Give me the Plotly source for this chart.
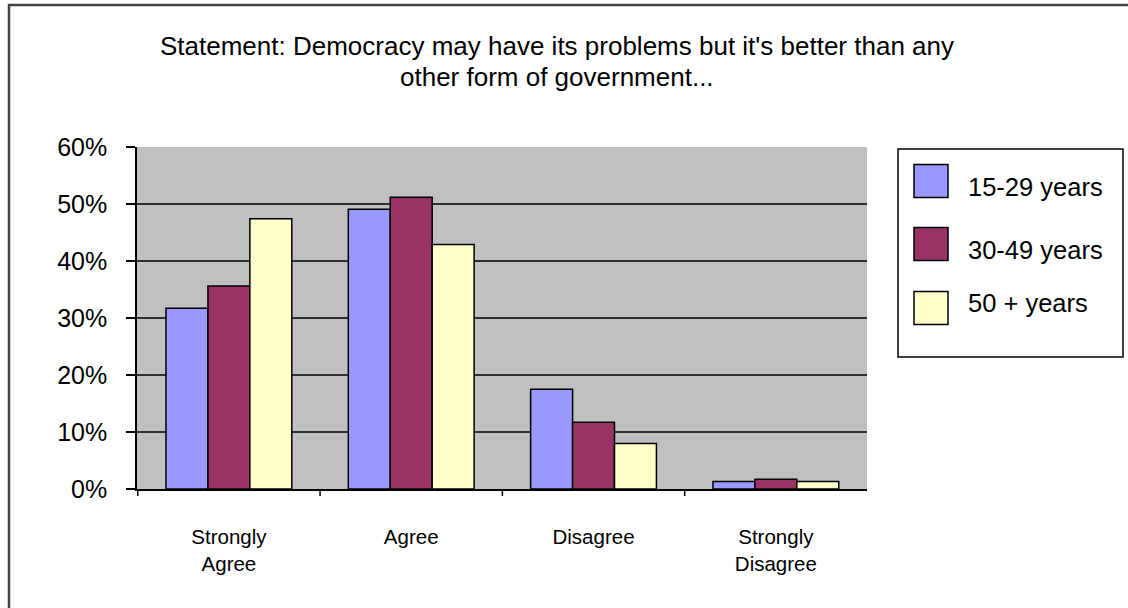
import plotly.graph_objects as go

# Survey responses by age group
categories = ["Strongly<br>Agree", "Agree", "Disagree", "Strongly<br>Disagree"]
age_groups = ["15-29 years", "30-49 years", "50 + years"]
young = [0.317, 0.491, 0.175, 0.013]
middle = [0.356, 0.512, 0.117, 0.017]
older = [0.474, 0.429, 0.080, 0.013]
series = [young, middle, older]
colors = ["#9999FF", "#993366", "#FFFFCC"]
y_ticks = [0.0, 0.1, 0.2, 0.3, 0.4, 0.5, 0.6]
title_lines = ["Statement: Democracy may have its problems but it's better than any",
               "other form of government..."]

W, H = 1128, 608
L, R, T, B = 137, 261, 147, 119
PW, PH = W - L - R, H - T - B
FONT = "Liberation Sans, Arial, sans-serif"


def px_x(px):
    return (px - L) / PW


def px_y(py):
    return (H - B - py) / PH


fig = go.Figure()
for name, vals, col in zip(age_groups, series, colors):
    fig.add_trace(go.Bar(
        x=categories, y=vals, name=name,
        marker=dict(color=col, line=dict(color="black", width=1.5)),
        showlegend=False,
    ))

shapes = []
# horizontal grid lines between the axis and the top edge
for v in y_ticks[1:-1]:
    shapes.append(dict(type="line", xref="paper", yref="y", x0=0, x1=1, y0=v, y1=v,
                       line=dict(color="black", width=1.5), layer="below"))

# category boundary ticks below the x axis (none at the far right end)
for i in range(len(categories)):
    shapes.append(dict(type="line", xref="x", yref="paper", x0=i - 0.5, x1=i - 0.5,
                       y0=0, y1=-7 / PH, line=dict(color="black", width=1.5)))

# outer frame
shapes.append(dict(type="rect", xref="paper", yref="paper",
                   x0=px_x(9), x1=px_x(1140), y0=px_y(5), y1=px_y(620),
                   line=dict(color="#444444", width=2.5), layer="above"))

# legend box and swatches
shapes.append(dict(type="rect", xref="paper", yref="paper",
                   x0=px_x(898), x1=px_x(1123), y0=px_y(149), y1=px_y(357),
                   line=dict(color="black", width=1.5), fillcolor="white"))
annotations = []
swatch_centres = [181, 244, 308]
text_centres = [187, 250, 303]
for name, col, cy, ty in zip(age_groups, colors, swatch_centres, text_centres):
    shapes.append(dict(type="rect", xref="paper", yref="paper",
                       x0=px_x(914), x1=px_x(948), y0=px_y(cy - 16.5), y1=px_y(cy + 16.5),
                       line=dict(color="black", width=1.5), fillcolor=col))
    annotations.append(dict(xref="paper", yref="paper", x=px_x(966), y=px_y(ty),
                            text=name, showarrow=False, xanchor="left", yanchor="middle",
                            font=dict(family=FONT, size=25.5, color="black")))

# chart title, one annotation per line
for line, cy in zip(title_lines, [46, 77]):
    annotations.append(dict(xref="paper", yref="paper", x=px_x(557), y=px_y(cy),
                            text=line, showarrow=False,
                            xanchor="center", yanchor="middle",
                            font=dict(family=FONT, size=26, color="black")))

fig.update_layout(
    width=W, height=H,
    margin=dict(l=L, r=R, t=T, b=B, pad=0),
    paper_bgcolor="white",
    plot_bgcolor="#C0C0C0",
    barmode="group",
    bargap=0.31,
    bargroupgap=0,
    shapes=shapes,
    annotations=annotations,
    font=dict(family=FONT, color="black"),
)
fig.update_xaxes(
    showgrid=False, showline=True, linecolor="black", linewidth=1.5,
    ticks="", tickfont=dict(family=FONT, size=20.5, color="black"),
    ticklabelstandoff=29,
)
fig.update_yaxes(
    range=[0, 0.6], tickvals=y_ticks, tickformat=".0%",
    showgrid=False, zeroline=False,
    showline=True, linecolor="black", linewidth=1.5,
    ticks="outside", ticklen=9, tickcolor="black", tickwidth=1.5,
    tickfont=dict(family=FONT, size=25, color="black"),
    ticklabelstandoff=14,
)

fig.write_html("out.html")
